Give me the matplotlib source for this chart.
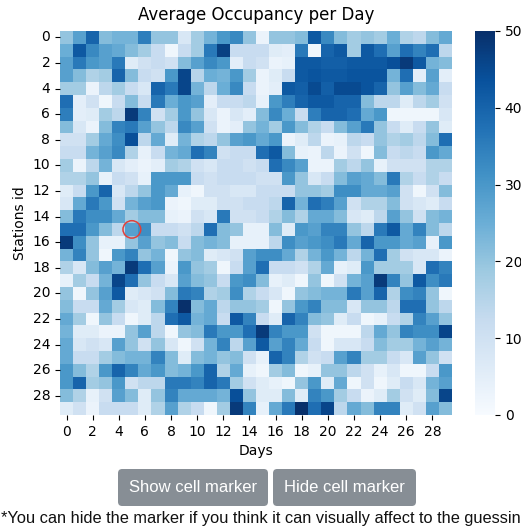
import numpy as np
import matplotlib
matplotlib.use("Agg")
import matplotlib.pyplot as plt
import seaborn as sns
from matplotlib.patches import FancyBboxPatch, Circle

# Average occupancy, one row per station (0-29), one column per day (0-29)
occupancy = [
    [20, 28, 40, 22, 24, 24, 35, 20, 20, 8, 18, 24, 30, 33, 20, 3, 20, 20, 22, 42, 33, 22, 18, 20, 18, 25, 16, 14, 22, 26],
    [25, 42, 33, 28, 26, 22, 18, 12, 2, 12, 18, 36, 47, 12, 12, 12, 6, 5, 36, 2, 40, 42, 18, 42, 38, 28, 38, 34, 38, 14],
    [28, 36, 30, 28, 36, 6, 10, 12, 10, 22, 28, 33, 30, 5, 12, 10, 3, 4, 42, 42, 41, 41, 42, 42, 42, 44, 48, 42, 24, 22],
    [28, 22, 16, 18, 40, 22, 12, 10, 30, 46, 15, 25, 24, 30, 18, 3, 6, 12, 42, 43, 42, 42, 43, 43, 43, 24, 38, 5, 28, 5],
    [18, 18, 3, 14, 18, 12, 8, 40, 36, 46, 24, 14, 25, 33, 12, 3, 5, 42, 41, 45, 41, 45, 45, 43, 40, 20, 28, 22, 26, 12],
    [38, 5, 10, 2, 12, 22, 12, 36, 25, 30, 28, 5, 12, 12, 14, 4, 30, 35, 40, 42, 42, 40, 40, 22, 14, 14, 6, 14, 18, 10],
    [35, 5, 6, 18, 14, 48, 34, 10, 18, 30, 20, 8, 3, 8, 5, 22, 33, 25, 12, 35, 40, 40, 38, 26, 30, 2, 2, 2, 2, 8],
    [22, 8, 3, 22, 34, 36, 28, 20, 14, 33, 28, 10, 3, 5, 20, 24, 18, 30, 22, 16, 12, 22, 28, 36, 20, 12, 6, 12, 20, 6],
    [10, 10, 18, 26, 32, 44, 14, 26, 6, 24, 16, 14, 20, 28, 30, 26, 30, 3, 6, 14, 3, 4, 14, 12, 20, 16, 18, 14, 22, 38],
    [12, 12, 24, 28, 33, 16, 4, 12, 24, 26, 38, 34, 10, 12, 12, 38, 42, 22, 4, 3, 14, 3, 10, 2, 22, 12, 14, 12, 30, 26],
    [18, 3, 14, 24, 8, 5, 3, 5, 18, 16, 10, 8, 12, 12, 10, 12, 38, 33, 28, 3, 3, 18, 14, 20, 4, 10, 10, 10, 16, 16],
    [16, 16, 20, 4, 12, 10, 4, 30, 30, 30, 12, 10, 12, 12, 12, 10, 10, 30, 20, 8, 12, 22, 28, 26, 22, 36, 16, 12, 16, 12],
    [6, 12, 30, 40, 8, 14, 20, 30, 26, 4, 2, 10, 10, 8, 8, 12, 12, 12, 20, 20, 18, 32, 32, 26, 26, 28, 10, 2, 10, 22],
    [8, 26, 36, 30, 10, 24, 28, 30, 3, 2, 6, 6, 10, 10, 12, 12, 14, 40, 24, 38, 35, 28, 10, 16, 16, 22, 10, 8, 6, 12],
    [22, 36, 32, 32, 26, 18, 22, 22, 4, 3, 10, 8, 36, 10, 10, 12, 16, 22, 16, 26, 26, 22, 8, 6, 14, 28, 20, 10, 22, 24],
    [38, 38, 30, 22, 14, 28, 32, 12, 12, 10, 14, 38, 22, 20, 4, 4, 22, 6, 30, 28, 34, 34, 20, 14, 36, 42, 26, 34, 22, 14],
    [48, 32, 20, 4, 4, 20, 28, 20, 22, 12, 22, 24, 22, 4, 4, 4, 14, 32, 28, 30, 32, 36, 26, 40, 30, 30, 26, 28, 4, 30],
    [24, 34, 20, 2, 30, 34, 20, 24, 2, 20, 22, 6, 8, 10, 28, 32, 32, 26, 16, 24, 30, 24, 14, 24, 38, 18, 10, 8, 8, 3],
    [16, 8, 22, 28, 24, 48, 38, 28, 3, 30, 20, 18, 2, 12, 28, 38, 12, 12, 10, 16, 26, 4, 6, 30, 18, 18, 18, 8, 38, 34],
    [4, 18, 12, 24, 46, 38, 20, 12, 8, 28, 22, 20, 12, 30, 32, 22, 4, 6, 2, 20, 2, 10, 24, 28, 48, 34, 20, 42, 32, 36],
    [20, 2, 20, 28, 42, 6, 8, 10, 22, 36, 34, 16, 18, 32, 16, 12, 8, 2, 20, 22, 24, 24, 36, 28, 40, 16, 32, 34, 20, 2],
    [22, 12, 12, 26, 18, 8, 6, 22, 34, 50, 22, 26, 14, 20, 20, 18, 2, 20, 30, 34, 22, 22, 8, 20, 20, 14, 38, 38, 20, 14],
    [26, 18, 2, 20, 12, 2, 6, 14, 38, 42, 24, 26, 12, 42, 34, 12, 6, 40, 34, 22, 20, 6, 12, 2, 4, 12, 16, 34, 28, 20],
    [24, 6, 6, 3, 3, 20, 28, 14, 2, 20, 22, 36, 30, 30, 38, 48, 34, 30, 30, 10, 2, 2, 2, 14, 26, 20, 34, 32, 32, 46],
    [26, 8, 10, 8, 28, 20, 10, 20, 8, 2, 10, 24, 34, 14, 28, 42, 28, 34, 26, 12, 2, 8, 8, 12, 22, 18, 18, 24, 28, 24],
    [26, 12, 12, 18, 22, 24, 24, 34, 22, 6, 22, 24, 20, 22, 10, 4, 40, 34, 16, 10, 12, 28, 34, 18, 18, 12, 8, 28, 20, 10],
    [30, 22, 16, 30, 40, 34, 26, 30, 22, 24, 30, 40, 16, 26, 4, 2, 18, 22, 2, 4, 20, 20, 14, 10, 4, 8, 2, 2, 12, 30],
    [30, 40, 18, 20, 30, 10, 14, 14, 36, 36, 34, 40, 36, 18, 10, 6, 4, 2, 20, 30, 6, 26, 2, 10, 2, 6, 12, 8, 24, 28],
    [22, 16, 4, 10, 28, 22, 6, 20, 34, 26, 26, 26, 24, 44, 20, 6, 6, 22, 6, 34, 30, 18, 12, 3, 6, 18, 10, 6, 22, 46],
    [6, 10, 3, 12, 12, 12, 6, 16, 28, 16, 12, 2, 18, 48, 34, 4, 26, 36, 50, 38, 46, 14, 26, 22, 34, 34, 6, 10, 28, 22],
]
marked_cell = (5, 15)  # (day, station)

title = "Average Occupancy per Day"
x_label = "Days"
y_label = "Stations id"
button_labels = ["Show cell marker", "Hide cell marker"]
footnote = "*You can hide the marker if you think it can visually affect to the guessing"

W, H = 521, 526
fig = plt.figure(figsize=(W / 100, H / 100), dpi=100)
fig.patch.set_facecolor("white")


def fx(px):
    return px / W


def fy(py):
    return 1 - py / H


ax = fig.add_axes([fx(60), fy(415), fx(452) - fx(60), fy(31) - fy(415)])
cax = fig.add_axes([fx(475), fy(415), fx(495) - fx(475), fy(31) - fy(415)])

data = np.array(occupancy, dtype=float)
sns.heatmap(data, cmap="Blues", vmin=0, vmax=50, ax=ax, cbar_ax=cax,
            xticklabels=2, yticklabels=2)

ax.set_title(title, fontsize=12, pad=8)
ax.set_xlabel(x_label, fontsize=10)
ax.set_ylabel(y_label, fontsize=10)
ax.tick_params(axis="both", labelsize=10)
plt.setp(ax.get_yticklabels(), rotation=0)
plt.setp(ax.get_xticklabels(), rotation=0)
cax.tick_params(labelsize=10)

# Highlight marker around one cell
cx, cy = marked_cell
ax.add_patch(Circle((cx + 0.5, cy + 0.5), 0.68, fill=False,
                    edgecolor="#e0403a", linewidth=1.1, zorder=5))

# Buttons under the chart
buttons = [(118, 268), (273, 416)]
for (x0, x1), label in zip(buttons, button_labels):
    y0, y1 = 469, 506
    fig.patches.append(FancyBboxPatch(
        (fx(x0), fy(y1)), fx(x1) - fx(x0), fy(y0) - fy(y1),
        boxstyle="round,pad=0,rounding_size=0.008",
        transform=fig.transFigure, facecolor="#878e95", edgecolor="none"))
    fig.text(fx((x0 + x1) / 2), fy((y0 + y1) / 2), label, color="white",
             fontsize=12, ha="center", va="center", family="Liberation Sans")

# The note runs past the right edge of the page
fig.text(fx(1), fy(518), footnote, fontsize=11.8, ha="left", va="center",
         family="Liberation Sans", color="#111111")

fig.savefig("out.png", dpi=100)
